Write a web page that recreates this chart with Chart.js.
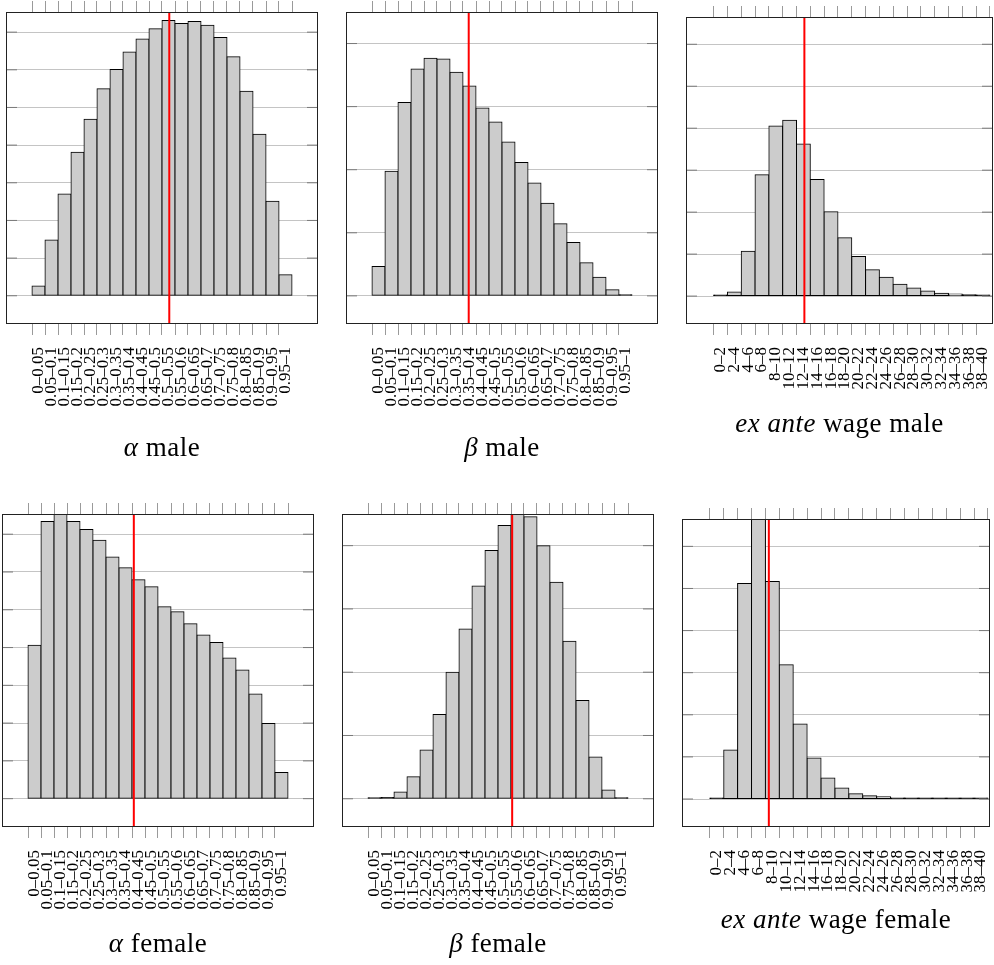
<!DOCTYPE html>
<html>
<head>
<meta charset="utf-8">
<script src="https://cdn.jsdelivr.net/npm/chart.js@4.4.1/dist/chart.umd.min.js"></script>
<style>
  body { margin: 0; background: #fff; }
  #page { position: relative; width: 994px; height: 965px; overflow: hidden; }
  .panel { position: absolute; }
  .cap { position: absolute; text-align: center; font-family: 'Liberation Serif', serif; font-size: 27px; line-height: 27px; letter-spacing: 0.5px; color: #000; white-space: nowrap; }
</style>
</head>
<body>
<div id="page"></div>
<script>
// bin labels
const unitBins = ['0–0.05', '0.05–0.1', '0.1–0.15', '0.15–0.2', '0.2–0.25', '0.25–0.3', '0.3–0.35',
  '0.35–0.4', '0.4–0.45', '0.45–0.5', '0.5–0.55', '0.55–0.6', '0.6–0.65', '0.65–0.7', '0.7–0.75',
  '0.75–0.8', '0.8–0.85', '0.85–0.9', '0.9–0.95', '0.95–1'];
const wageBins = ['0–2', '2–4', '4–6', '6–8', '8–10', '10–12', '12–14', '14–16', '16–18', '18–20',
  '20–22', '22–24', '24–26', '26–28', '28–30', '30–32', '32–34', '34–36', '36–38', '38–40'];

// density per bin
const alphaMale = [0.052, 0.296, 0.54, 0.762, 0.938, 1.10, 1.202, 1.294, 1.364, 1.418,
  1.462, 1.446, 1.456, 1.436, 1.372, 1.27, 1.086, 0.858, 0.502, 0.112];
const betaMale = [0.232, 0.988, 1.532, 1.799, 1.884, 1.878, 1.773, 1.664, 1.49, 1.379,
  1.22, 1.057, 0.895, 0.734, 0.571, 0.423, 0.262, 0.148, 0.048, 0.006];
const wageMale = [0.0002, 0.0019, 0.0214, 0.0578, 0.081, 0.0838, 0.0725, 0.0556, 0.0402, 0.0278,
  0.0189, 0.0125, 0.009, 0.0057, 0.0038, 0.0024, 0.0014, 0.001, 0.0006, 0.0005];
const alphaFemale = [0.812, 1.467, 1.534, 1.467, 1.425, 1.368, 1.28, 1.223, 1.159, 1.122,
  1.016, 0.989, 0.926, 0.867, 0.827, 0.745, 0.681, 0.554, 0.398, 0.138];
const betaFemale = [0.003, 0.011, 0.053, 0.175, 0.386, 0.666, 0.999, 1.342, 1.681, 1.961,
  2.159, 2.28, 2.228, 2.0, 1.71, 1.245, 0.777, 0.331, 0.069, 0.003];
const wageFemale = [0.0003, 0.0233, 0.1024, 0.138, 0.1033, 0.0638, 0.0356, 0.0195, 0.01, 0.0052,
  0.0025, 0.0016, 0.0011, 0.0005, 0.0003, 0.0002, 0.0001, 0.0001, 0.0001, 0.0001];

// means (red lines)
const meanAlphaMale = 0.528;
const meanBetaMale = 0.372;
const meanWageMale = 13.14;
const meanAlphaFemale = 0.407;
const meanBetaFemale = 0.5545;
const meanWageFemale = 8.49;

const TICK = 11;
const LABEL_SPACE = 110;

const panels = [
  { values: alphaMale, bins: unitBins, lo: 0, w: 0.05, mean: meanAlphaMale,
    xMin: -0.1, xMax: 1.1, yMin: -0.15, yMax: 1.507, step: 0.2,
    box: { x: 6, y: 12, w: 312, h: 312 }, caption: '<i>α</i> male', capTop: 434 },
  { values: betaMale, bins: unitBins, lo: 0, w: 0.05, mean: meanBetaMale,
    xMin: -0.1, xMax: 1.1, yMin: -0.223, yMax: 2.25, step: 0.5,
    box: { x: 346, y: 12, w: 312, h: 312 }, caption: '<i>β</i> male', capTop: 434 },
  { values: wageMale, bins: wageBins, lo: 0, w: 2, mean: meanWageMale,
    xMin: -4, xMax: 40.45, yMin: -0.0133, yMax: 0.133, step: 0.02,
    box: { x: 686, y: 17, w: 307, h: 307 }, caption: '<i>ex ante</i> wage male', capTop: 410 },
  { values: alphaFemale, bins: unitBins, lo: 0, w: 0.05, mean: meanAlphaFemale,
    xMin: -0.1, xMax: 1.1, yMin: -0.15, yMax: 1.507, step: 0.2,
    box: { x: 2, y: 514, w: 312, h: 313 }, caption: '<i>α</i> female', capTop: 930 },
  { values: betaFemale, bins: unitBins, lo: 0, w: 0.05, mean: meanBetaFemale,
    xMin: -0.1, xMax: 1.1, yMin: -0.223, yMax: 2.25, step: 0.5,
    box: { x: 342, y: 514, w: 312, h: 313 }, caption: '<i>β</i> female', capTop: 930 },
  { values: wageFemale, bins: wageBins, lo: 0, w: 2, mean: meanWageFemale,
    xMin: -4, xMax: 40.3, yMin: -0.0133, yMax: 0.133, step: 0.02,
    box: { x: 682, y: 519, w: 308, h: 308 }, caption: '<i>ex ante</i> wage female', capTop: 906 }
];

// panel box plus short inward ticks on both sides
const frame = {
  id: 'frame',
  afterDatasetsDraw(chart) {
    const { ctx, chartArea: a } = chart;
    const y = chart.scales.y;
    ctx.save();
    ctx.lineWidth = 1;
    ctx.strokeStyle = '#7a7a7a';
    y.ticks.forEach(t => {
      const py = y.getPixelForValue(t.value);
      ctx.beginPath();
      ctx.moveTo(a.left, py);
      ctx.lineTo(a.left + TICK, py);
      ctx.moveTo(a.right - TICK, py);
      ctx.lineTo(a.right, py);
      ctx.stroke();
    });
    ctx.strokeStyle = '#222';
    ctx.strokeRect(a.left + 0.5, a.top + 0.5, a.width - 1, a.height - 1);
    ctx.restore();
  }
};

// bars flatter than 2px collapse to their outline
const barFill = c => {
  const y = c.chart.scales.y;
  if (!y || !c.raw) return '#cccccc';
  return y.getPixelForValue(0) - y.getPixelForValue(c.raw.y) < 2 ? '#000' : '#cccccc';
};

const page = document.getElementById('page');

panels.forEach(p => {
  const div = document.createElement('div');
  div.className = 'panel';
  div.style.left = p.box.x + 'px';
  div.style.top = (p.box.y - TICK) + 'px';
  const canvas = document.createElement('canvas');
  canvas.width = p.box.w;
  canvas.height = p.box.h + TICK + LABEL_SPACE;
  div.appendChild(canvas);
  page.appendChild(div);

  const cap = document.createElement('div');
  cap.className = 'cap';
  cap.style.left = p.box.x + 'px';
  cap.style.width = p.box.w + 'px';
  cap.style.top = p.capTop + 'px';
  cap.innerHTML = p.caption;
  page.appendChild(cap);

  const edges = [];
  for (let i = 0; i <= p.bins.length; i++) edges.push(+(p.lo + i * p.w).toFixed(6));
  const yTicks = [];
  for (let i = 0; i * p.step <= p.yMax + 1e-9; i++) yTicks.push(+(i * p.step).toFixed(6));
  const binPx = p.box.w / (p.xMax - p.xMin) * p.w;

  const xCommon = {
    type: 'linear', min: p.xMin, max: p.xMax, offset: false,
    afterBuildTicks: s => { s.ticks = edges.map(v => ({ value: v })); },
    border: { display: false },
    grid: { offset: false, drawOnChartArea: false, drawTicks: true, tickLength: TICK, color: '#9a9a9a', lineWidth: 1 }
  };

  new Chart(canvas, {
    type: 'bar',
    data: {
      datasets: [
        {
          type: 'line',
          data: [{ x: p.mean, y: p.yMin }, { x: p.mean, y: p.yMax }],
          borderColor: '#ff0000', borderWidth: 2, pointRadius: 0, order: 0
        },
        {
          data: p.values.map((v, i) => ({ x: p.lo + (i + 0.5) * p.w, y: v })),
          backgroundColor: barFill, borderColor: '#000', borderWidth: 1,
          borderSkipped: false, inflateAmount: 0.5, minBarLength: 1,
          categoryPercentage: 1, barPercentage: 1, clip: 0, order: 1
        }
      ]
    },
    options: {
      responsive: false,
      animation: false,
      events: [],
      layout: { padding: 0 },
      plugins: { legend: { display: false }, tooltip: { enabled: false } },
      scales: {
        x: {
          ...xCommon, position: 'bottom',
          ticks: {
            autoSkip: false, minRotation: 90, maxRotation: 90, padding: 12,
            labelOffset: binPx / 2, color: '#000',
            font: { family: 'Liberation Serif', size: 17 },
            callback: (v, i) => i < p.bins.length ? p.bins[i] : null
          },
          afterFit: s => { s.height = LABEL_SPACE; s.paddingLeft = 0; s.paddingRight = 0; }
        },
        xt: {
          ...xCommon, position: 'top',
          ticks: { display: false },
          afterFit: s => { s.height = TICK; s.paddingLeft = 0; s.paddingRight = 0; }
        },
        y: {
          type: 'linear', min: p.yMin, max: p.yMax,
          afterBuildTicks: s => { s.ticks = yTicks.map(v => ({ value: v })); },
          ticks: { display: false },
          border: { display: false },
          grid: { drawTicks: false, color: '#c4c4c4', lineWidth: 1 },
          afterFit: s => { s.width = 0; s.paddingTop = 0; s.paddingBottom = 0; }
        }
      }
    },
    plugins: [frame]
  });
});
</script>
</body>
</html>
